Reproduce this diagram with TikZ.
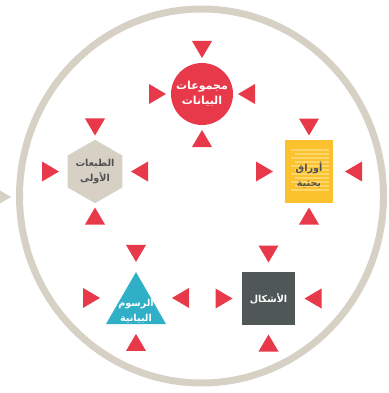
\documentclass[tikz,border=0pt]{standalone}
\usepackage{fontspec}
\newfontfamily\arabicfont[Script=Arabic]{DejaVu Sans}
\TeXXeTstate=1
\usetikzlibrary{shapes.geometric,calc}

\definecolor{ptrred}{HTML}{E8394A}
\definecolor{ringgray}{HTML}{D7D1C5}
\definecolor{paperyellow}{HTML}{FCC22D}
\definecolor{paperline}{HTML}{FDD66E}
\definecolor{graphteal}{HTML}{30B0C7}
\definecolor{shapedark}{HTML}{4F5757}
\definecolor{textdark}{HTML}{505050}

\newcommand{\artext}[1]{\beginR #1\endR}

\tikzset{
    pointer/.pic={\fill[pic actions] (-10,-8.5) -- (10,-8.5) -- (0,8.5) -- cycle;},
    lbl/.style={font=\arabicfont\bfseries\fontsize{9.6}{14.5}\selectfont, align=center, inner sep=0pt},
    blob/.style={inner sep=0pt, draw=none}
}

\begin{document}
\begin{tikzpicture}[x=1pt,y=-1pt]
    \useasboundingbox (0,0) rectangle (388,393);

    % Outer ring
    \draw[ringgray, line width=7pt] (201.5,196) ellipse [x radius=182, y radius=187];
    \pic[fill=ringgray, rotate=90] at (2.5,197) {pointer};

    % Data sets
    \node[blob, circle, fill=ptrred, minimum size=62pt, lbl, text=white,
          font=\arabicfont\bfseries\fontsize{11}{15}\selectfont] (data) at (202,94)
        {\artext{مجموعات}\\\artext{البيانات}};

    % Research papers
    \node[blob, rectangle, fill=paperyellow, minimum width=48pt, minimum height=63pt,
          path picture={
            \foreach \i in {0,...,10} {
                \pgfmathsetmacro{\ind}{mod(\i,2)==0 ? 6 : 10}
                \draw[paperline, line width=1.3pt]
                    ([xshift=\ind pt, yshift=-(10+4*\i)*1pt]path picture bounding box.north west) --
                    ([xshift=-4pt, yshift=-(10+4*\i)*1pt]path picture bounding box.north east);
            }
          }] (papers) at (309,171.5) {};
    \node[lbl, text=textdark] (papers-txt) at (309,175) {\artext{أوراق}\\\artext{بحثية}};

    % First editions
    \node[blob, regular polygon, regular polygon sides=6, shape border rotate=30,
          fill=ringgray, minimum size=61pt, lbl, text=textdark] (editions) at (95,171.5)
        {\artext{الطبعات}\\\artext{الأولى}};

    % Charts
    \node[blob, regular polygon, regular polygon sides=3, fill=graphteal,
          minimum size=69.3pt] (graphs) at (136,306.7) {};
    \node[lbl, text=white] (graphs-txt) at (136,311) {\artext{الرسوم}\\\artext{البيانية}};

    % Figures
    \node[blob, rectangle, fill=shapedark, minimum size=53pt, lbl, text=white] (shapes) at (268.5,298.5)
        {\artext{الأشكال}};

    % Pointers round each item
    \foreach \n in {data,papers,editions,graphs,shapes} {
        \coordinate (m) at ($(\n.north)!0.5!(\n.south)$);
        \pic[fill=ptrred] at ([yshift=44.5pt]m) {pointer};
        \pic[fill=ptrred, rotate=180] at ([yshift=-44.5pt]m) {pointer};
        \pic[fill=ptrred, rotate=90] at ([xshift=-44.5pt]m) {pointer};
        \pic[fill=ptrred, rotate=-90] at ([xshift=44.5pt]m) {pointer};
    }
\end{tikzpicture}
\end{document}
